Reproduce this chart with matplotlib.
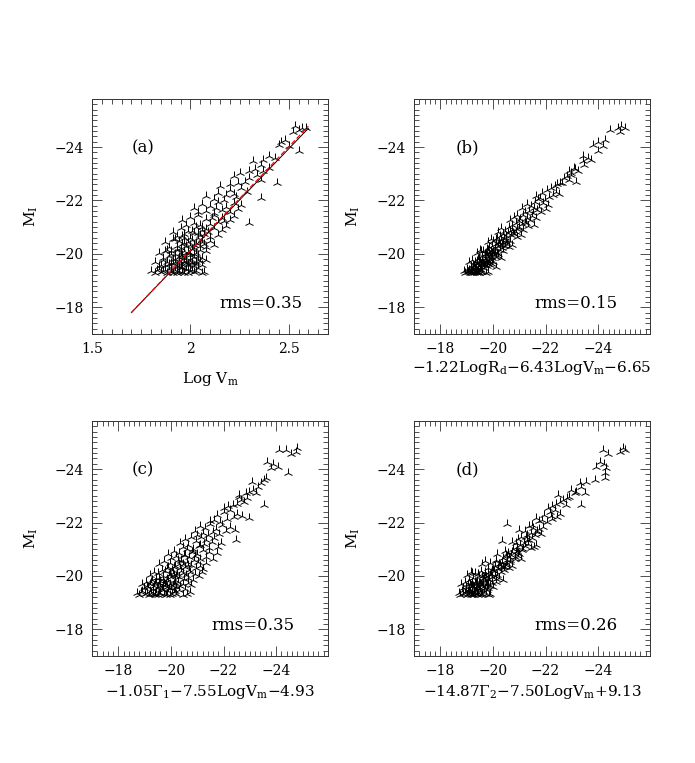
import matplotlib
matplotlib.use('Agg')
import matplotlib.pyplot as plt
from matplotlib.ticker import MultipleLocator, FuncFormatter

plt.rcParams['font.family'] = 'DejaVu Serif'
plt.rcParams['mathtext.fontset'] = 'dejavuserif'

# M_I of each galaxy (shared by all four panels)
mag = [-19.35, -19.29, -19.42, -19.31, -19.37, -19.27, -19.45, -19.33, -19.30, -19.40,
       -19.28, -19.36, -19.48, -19.32, -19.30, -19.44, -19.29, -19.34, -19.38, -19.31,
       -19.46, -19.30, -19.33, -19.41, -19.35, -19.37, -19.32, -19.43, -19.39, -19.34,
       -19.68, -19.53, -19.77, -19.60, -19.71, -19.50, -19.64, -19.79, -19.56, -19.73,
       -19.62, -19.51, -19.75, -19.66, -19.58, -19.80, -19.69, -19.54, -19.63, -19.72,
       -19.57, -19.76, -19.61, -19.70, -19.52, -19.74, -19.65, -19.78, -19.59, -19.67,
       -19.55, -19.70, -19.63, -19.74, -19.68,
       -20.05, -19.86, -20.16, -19.93, -20.10, -19.82, -19.99, -20.18, -19.89, -20.03,
       -19.95, -20.12, -19.83, -20.08, -19.96, -20.19, -19.88, -20.02, -19.92, -20.13,
       -19.85, -20.09, -19.98, -20.15, -19.90, -20.06, -20.00, -20.11, -19.94, -20.04,
       -20.44, -20.24, -20.56, -20.31, -20.49, -20.21, -20.38, -20.58, -20.28, -20.46,
       -20.34, -20.53, -20.23, -20.41, -20.59, -20.29, -20.51, -20.36, -20.26, -20.48,
       -20.33, -20.54, -20.39, -20.35, -20.43,
       -20.81, -20.67, -20.95, -20.73, -20.87, -20.61, -20.77, -20.99, -20.69, -20.91,
       -20.75, -20.83, -20.63, -20.97, -20.71, -20.89, -20.65, -20.85, -20.79, -20.93,
       -21.25, -21.07, -21.38, -21.15, -21.44, -21.02, -21.30, -21.12, -21.47, -21.20,
       -21.36, -21.05, -21.28, -21.41, -21.09, -21.33, -21.22, -21.17,
       -21.70, -21.55, -21.87, -21.61, -21.79, -21.52, -21.96, -21.64, -21.76, -21.58,
       -21.91, -21.67, -21.83, -21.73,
       -22.16, -22.06, -22.08, -22.28, -22.02, -22.38, -22.12, -22.45, -22.20, -22.33, -22.24,
       -22.55, -22.60, -22.66, -22.66, -22.70, -22.77, -22.84, -22.90, -22.97,
       -23.03, -23.09, -23.09, -23.16, -23.21, -23.34, -23.47,
       -23.53, -23.58, -23.65, -23.84,
       -24.05, -24.09, -24.20, -24.27,
       -24.58, -24.64, -24.70, -24.72, -24.78]

# panel (a): Log Vm
logv = [1.80, 1.82, 1.84, 1.85, 1.86, 1.88, 1.89, 1.90, 1.91, 1.92,
        1.93, 1.94, 1.95, 1.96, 1.97, 1.98, 1.99, 2.00, 2.01, 2.02,
        2.04, 2.06, 2.07, 1.87, 1.90, 1.93, 1.96, 1.99, 1.83, 2.03,
        1.82, 1.84, 1.86, 1.87, 1.88, 1.90, 1.91, 1.92, 1.93, 1.94,
        1.95, 1.96, 1.97, 1.98, 1.99, 2.00, 2.01, 2.02, 2.03, 2.05,
        2.06, 2.08, 1.89, 1.92, 1.95, 1.98, 2.01, 2.04, 1.85, 1.90,
        1.94, 1.97, 1.99, 2.00, 2.03,
        1.84, 1.86, 1.88, 1.89, 1.90, 1.91, 1.92, 1.93, 1.94, 1.95,
        1.96, 1.97, 1.98, 1.99, 2.00, 2.01, 2.02, 2.03, 2.04, 2.05,
        2.06, 2.08, 1.90, 1.93, 1.96, 1.99, 2.02, 1.87, 1.95, 2.00,
        1.87, 1.89, 1.91, 1.93, 1.94, 1.95, 1.96, 1.97, 1.98, 1.99,
        2.00, 2.01, 2.02, 2.03, 2.04, 2.05, 2.06, 2.07, 2.08, 2.10,
        2.12, 1.92, 1.97, 2.02, 2.06,
        1.91, 1.93, 1.95, 1.97, 1.99, 2.00, 2.02, 2.03, 2.05, 2.06,
        2.07, 2.09, 2.10, 2.12, 2.14, 2.16, 1.96, 2.01, 2.04, 2.08,
        1.96, 1.98, 2.00, 2.02, 2.04, 2.06, 2.08, 2.10, 2.12, 2.14,
        2.16, 2.18, 2.20, 2.22, 2.05, 2.11, 2.17, 2.30,
        2.02, 2.04, 2.06, 2.08, 2.10, 2.12, 2.14, 2.16, 2.18, 2.20,
        2.22, 2.24, 2.26, 2.13,
        2.08, 2.12, 2.36, 2.14, 2.17, 2.20, 2.23, 2.26, 2.18, 2.29, 2.22,
        2.15, 2.20, 2.24, 2.44, 2.28, 2.36, 2.30, 2.22, 2.34,
        2.25, 2.30, 2.37, 2.33, 2.40, 2.36, 2.32,
        2.37, 2.43, 2.40, 2.55,
        2.50, 2.45, 2.46, 2.48,
        2.52, 2.55, 2.57, 2.59, 2.53]

# panel (b): -1.22LogRd-6.43LogVm-6.65
comb_b = [-18.90, -18.95, -19.00, -19.05, -19.08, -19.12, -19.15, -19.18, -19.22, -19.25,
          -19.28, -19.30, -19.33, -19.36, -19.40, -19.43, -19.46, -19.50, -19.55, -19.60,
          -19.65, -19.72, -19.80, -19.10, -19.20, -19.32, -19.42, -19.52, -19.02, -19.38,
          -19.10, -19.15, -19.20, -19.25, -19.30, -19.35, -19.40, -19.43, -19.46, -19.50,
          -19.53, -19.56, -19.60, -19.63, -19.66, -19.70, -19.73, -19.76, -19.80, -19.84,
          -19.88, -19.92, -19.96, -20.02, -20.10, -19.38, -19.48, -19.58, -19.68, -19.78,
          -19.28, -19.52, -19.62, -19.72, -19.86,
          -19.40, -19.46, -19.52, -19.58, -19.63, -19.68, -19.72, -19.76, -19.80, -19.84,
          -19.88, -19.92, -19.96, -20.00, -20.04, -20.08, -20.12, -20.16, -20.20, -20.25,
          -20.30, -20.38, -19.70, -19.82, -19.94, -20.06, -20.18, -19.55, -19.78, -19.98,
          -19.80, -19.86, -19.92, -19.97, -20.02, -20.06, -20.10, -20.14, -20.18, -20.22,
          -20.26, -20.30, -20.34, -20.38, -20.42, -20.46, -20.50, -20.55, -20.60, -20.66,
          -20.74, -20.12, -20.24, -20.36, -20.48,
          -20.20, -20.26, -20.32, -20.38, -20.44, -20.50, -20.56, -20.62, -20.68, -20.74,
          -20.80, -20.86, -20.92, -20.98, -21.05, -21.14, -20.48, -20.64, -20.78, -20.90,
          -20.65, -20.72, -20.79, -20.86, -20.92, -20.98, -21.04, -21.10, -21.16, -21.22,
          -21.28, -21.34, -21.40, -21.47, -21.55, -21.65, -21.00, -21.25,
          -21.12, -21.20, -21.28, -21.36, -21.44, -21.52, -21.60, -21.68, -21.76, -21.84,
          -21.92, -22.00, -22.08, -21.56,
          -21.62, -21.72, -21.80, -21.88, -21.96, -22.04, -22.12, -22.20, -22.30, -22.40, -22.52,
          -22.35, -22.45, -22.55, -22.62, -23.15, -22.90, -22.70, -22.80, -22.95,
          -22.96, -22.90, -23.22, -23.10, -23.09, -23.47, -23.41,
          -23.73, -23.60, -23.41, -23.99,
          -24.18, -23.80, -23.99, -24.24,
          -24.82, -24.44, -24.76, -25.01, -24.88]

# panel (c): -1.05Gamma1-7.55LogVm-4.93
comb_c = [-18.70, -18.80, -18.90, -19.00, -19.08, -19.15, -19.22, -19.30, -19.38, -19.45,
          -19.52, -19.60, -19.68, -19.75, -19.82, -19.90, -19.98, -20.05, -20.12, -20.20,
          -20.30, -20.45, -20.60, -20.72, -19.25, -19.55, -19.85, -20.15, -18.85, -19.40,
          -18.90, -18.98, -19.06, -19.14, -19.22, -19.30, -19.36, -19.42, -19.48, -19.54,
          -19.60, -19.66, -19.72, -19.78, -19.84, -19.90, -19.96, -20.02, -20.08, -20.14,
          -20.20, -20.28, -20.36, -20.45, -20.55, -20.65, -20.78, -19.26, -19.50, -19.70,
          -19.92, -20.12, -19.10, -19.40, -19.80,
          -19.20, -19.28, -19.36, -19.44, -19.52, -19.60, -19.68, -19.76, -19.84, -19.92,
          -20.00, -20.08, -20.16, -20.24, -20.32, -20.40, -20.48, -20.56, -20.64, -20.72,
          -20.82, -20.92, -21.05, -21.18, -19.70, -19.95, -20.20, -20.45, -19.55, -20.10,
          -19.55, -19.65, -19.75, -19.85, -19.95, -20.05, -20.15, -20.25, -20.35, -20.45,
          -20.55, -20.62, -20.70, -20.78, -20.86, -20.94, -21.02, -21.10, -21.20, -21.32,
          -20.10, -20.40, -20.66, -19.90, -20.30,
          -19.90, -20.00, -20.10, -20.20, -20.30, -20.40, -20.50, -20.60, -20.70, -20.80,
          -20.90, -21.00, -21.10, -21.20, -21.32, -21.45, -21.60, -21.75, -20.55, -20.85,
          -20.35, -20.45, -20.55, -20.65, -20.75, -20.85, -20.95, -21.05, -21.15, -21.25,
          -21.35, -21.45, -21.55, -21.65, -21.78, -22.46, -21.92, -21.10,
          -20.90, -21.00, -21.10, -21.20, -21.30, -21.40, -21.50, -21.60, -21.70, -21.82,
          -21.95, -22.10, -22.25, -22.45,
          -22.97, -21.50, -21.62, -21.75, -21.88, -22.00, -22.12, -22.25, -22.38, -22.52, -22.70,
          -22.00, -22.15, -22.35, -23.54, -22.50, -22.78, -22.65, -22.90, -22.59,
          -22.60, -22.84, -23.22, -22.97, -23.10, -23.30, -23.41,
          -23.09, -23.54, -23.60, -24.43,
          -23.79, -24.05, -23.86, -23.65,
          -24.56, -24.75, -24.11, -24.37, -24.78]

# panel (d): -14.87Gamma2-7.50LogVm+9.13
comb_d = [-18.70, -18.76, -18.82, -18.88, -18.94, -19.00, -19.05, -19.10, -19.15, -19.20,
          -19.25, -19.30, -19.35, -19.40, -19.45, -19.50, -19.55, -19.60, -19.66, -19.72,
          -19.78, -19.85, -19.90, -19.12, -19.28, -19.42, -19.58, -18.98, -19.38, -19.22,
          -18.80, -18.86, -18.92, -18.98, -19.04, -19.10, -19.16, -19.22, -19.28, -19.34,
          -19.40, -19.46, -19.52, -19.58, -19.64, -19.70, -19.76, -19.82, -19.88, -19.95,
          -20.02, -20.10, -19.20, -19.36, -19.50, -19.62, -19.74, -19.30, -19.44, -19.56,
          -19.68, -19.12, -19.26, -19.48, -19.80,
          -19.00, -19.08, -19.16, -19.24, -19.32, -19.40, -19.48, -19.55, -19.62, -19.68,
          -19.74, -19.80, -19.86, -19.92, -19.98, -20.04, -20.10, -20.16, -20.22, -20.30,
          -20.40, -19.45, -19.58, -19.70, -19.82, -19.94, -20.06, -19.20, -19.65, -19.88,
          -19.60, -19.98, -19.70, -19.80, -19.90, -20.00, -20.06, -20.12, -20.18, -20.24,
          -20.30, -20.36, -20.42, -20.48, -20.54, -20.60, -20.66, -20.72, -20.20, -20.34,
          -20.46, -20.10, -20.28, -20.40, -20.52,
          -20.17, -20.40, -20.46, -20.52, -20.58, -20.64, -20.70, -20.76, -20.82, -20.88,
          -20.94, -21.00, -21.06, -21.12, -20.60, -20.72, -20.84, -20.96, -20.50, -20.90,
          -20.87, -20.90, -20.96, -21.02, -21.08, -21.14, -20.36, -21.20, -21.26, -21.32,
          -21.38, -21.44, -20.74, -21.50, -21.56, -21.30, -21.18, -21.62,
          -21.20, -21.28, -21.36, -21.44, -21.52, -21.60, -20.55, -21.68, -21.76, -21.84,
          -21.50, -21.66, -21.92, -21.00,
          -21.65, -21.75, -21.85, -21.95, -22.05, -22.15, -22.25, -22.35, -22.45, -22.55, -22.20,
          -22.10, -22.25, -22.78, -23.35, -22.40, -22.55, -22.65, -22.80, -22.90,
          -22.46, -23.48, -23.10, -23.16, -22.95, -23.35, -23.29,
          -23.54, -23.86, -24.24, -24.24,
          -24.30, -23.92, -24.22, -24.05,
          -24.37, -24.81, -24.18, -25.00, -24.94]

# fitted relation in panel (a)
fit_x = [1.70, 2.60]
fit_y_black = [-17.80, -24.70]
fit_y_red = [-17.80, -24.78]

panel_tags = ['(a)', '(b)', '(c)', '(d)']
rms_labels = ['rms=0.35', 'rms=0.15', 'rms=0.35', 'rms=0.26']
x_labels = ['Log V$_\\mathrm{m}$',
            '\u22121.22LogR$_\\mathrm{d}$\u22126.43LogV$_\\mathrm{m}$\u22126.65',
            '\u22121.05\u0393$_1$\u22127.55LogV$_\\mathrm{m}$\u22124.93',
            '\u221214.87\u0393$_2$\u22127.50LogV$_\\mathrm{m}$+9.13']
x_series = [logv, comb_b, comb_c, comb_d]

fig = plt.figure(figsize=(6.95, 7.63), dpi=100)
rects = [[0.1324, 0.5623, 0.3396, 0.3080],
         [0.5957, 0.5623, 0.3396, 0.3080],
         [0.1324, 0.1402, 0.3396, 0.3080],
         [0.5957, 0.1402, 0.3396, 0.3080]]
xlab_y = [-0.152, -0.106, -0.115, -0.115]
tag_x = [0.216, 0.225, 0.216, 0.225]
rms_x = [0.894, 0.864, 0.86, 0.864]

fmt = FuncFormatter(lambda v, p: ('%g' % v).replace('-', '\u2212'))

for i in range(4):
    ax = fig.add_axes(rects[i])
    ax.plot(x_series[i], mag, linestyle='none', marker='2', markersize=6.5,
            markeredgewidth=0.7, color='black')
    if i == 0:
        ax.plot(fit_x, fit_y_black, color='black', lw=0.7)
        ax.plot(fit_x, fit_y_red, color='red', lw=0.9, dashes=(4, 2))
        ax.set_xlim(1.5, 2.7)
        ax.xaxis.set_major_locator(MultipleLocator(0.5))
        ax.xaxis.set_minor_locator(MultipleLocator(0.05))
    else:
        ax.set_xlim(-17, -25.97)
        ax.xaxis.set_major_locator(MultipleLocator(2))
        ax.xaxis.set_minor_locator(MultipleLocator(0.2))
    ax.set_ylim(-17, -25.8)
    ax.yaxis.set_major_locator(MultipleLocator(2))
    ax.yaxis.set_minor_locator(MultipleLocator(0.2))
    ax.xaxis.set_major_formatter(fmt)
    ax.yaxis.set_major_formatter(fmt)
    ax.tick_params(which='both', direction='in', top=True, right=True,
                   width=0.6, color='#333333', labelsize=10)
    ax.tick_params(which='major', length=7, pad=6)
    ax.tick_params(which='minor', length=3.5)
    for s in ax.spines.values():
        s.set_linewidth(0.7)
        s.set_color('#333333')
    ax.set_ylabel('M$_\\mathrm{I}$', fontsize=11)
    ax.yaxis.set_label_coords(-0.22, 0.5)
    ax.set_xlabel(x_labels[i], fontsize=11)
    ax.xaxis.set_label_coords(0.5, xlab_y[i])
    ax.text(tag_x[i], 0.79, panel_tags[i], transform=ax.transAxes,
            ha='center', va='center', fontsize=12)
    ax.text(rms_x[i], 0.13, rms_labels[i], transform=ax.transAxes,
            ha='right', va='center', fontsize=12)

fig.savefig('out.png', dpi=100)
